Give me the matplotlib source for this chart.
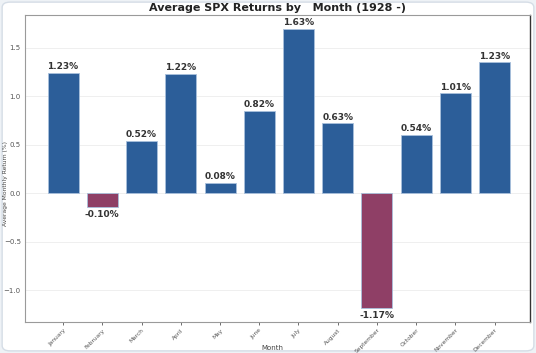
import matplotlib
matplotlib.use("Agg")
import matplotlib.pyplot as plt
from matplotlib.patches import FancyBboxPatch

# average monthly returns (bar heights as drawn) and their printed labels
months = ["January", "February", "March", "April", "May", "June",
          "July", "August", "September", "October", "November", "December"]
returns = [1.24, -0.14, 0.54, 1.23, 0.11, 0.85, 1.70, 0.72, -1.19, 0.60, 1.03, 1.35]
labels = ["1.23%", "-0.10%", "0.52%", "1.22%", "0.08%", "0.82%",
          "1.63%", "0.63%", "-1.17%", "0.54%", "1.01%", "1.23%"]

pos_colour = "#2c5e99"
neg_colour = "#8f3f66"

fig = plt.figure(figsize=(5.36, 3.53), dpi=100)
fig.patch.set_facecolor("#eef2f6")
frame = FancyBboxPatch((0.004, 0.006), 0.992, 0.988, boxstyle="round,pad=0,rounding_size=0.015",
                       transform=fig.transFigure, facecolor="white", edgecolor="#d5dde6",
                       linewidth=1.0, zorder=-1)
fig.patches.append(frame)

ax = fig.add_axes([25 / 536, 31 / 353, 505 / 536, 307 / 353])
ax.set_facecolor("white")

x = range(len(months))
colours = [pos_colour if v >= 0 else neg_colour for v in returns]
ax.bar(x, returns, width=0.79, color=colours, edgecolor="#a9c0dc", linewidth=0.6, zorder=3)

for i, (v, lab) in enumerate(zip(returns, labels)):
    if v >= 0:
        ax.text(i, v + 0.02, lab, ha="center", va="bottom", fontsize=6.5,
                fontweight="bold", color="#333333")
    else:
        ax.text(i, v - 0.03, lab, ha="center", va="top", fontsize=6.5,
                fontweight="bold", color="#333333")

ax.set_xlim(-0.97, 11.9)
ax.set_ylim(-1.33, 1.84)
ax.set_yticks([-1.0, -0.5, 0.0, 0.5, 1.0, 1.5])
ax.set_xticks(list(x))
ax.set_xticklabels(months, rotation=45, ha="right", rotation_mode="anchor")
ax.tick_params(axis="y", labelsize=5, colors="#555555", length=0, pad=3)
ax.tick_params(axis="x", labelsize=4.2, colors="#555555", length=2.5, width=0.6, pad=1.5)
ax.grid(axis="y", color="#ececec", linewidth=0.6, zorder=0)

for side in ["left", "bottom", "top"]:
    ax.spines[side].set_color("#9a9a9a")
    ax.spines[side].set_linewidth(0.8)
ax.spines["right"].set_color("#333333")
ax.spines["right"].set_linewidth(1.0)

ax.set_xlabel("Month", fontsize=5, color="#444444")
ax.xaxis.set_label_coords(0.49, -0.075)
ax.set_ylabel("Average Monthly Return (%)", fontsize=4.3, color="#444444")
ax.yaxis.set_label_coords(-0.033, 0.45)
ax.set_title("Average SPX Returns by   Month (1928 -)", fontsize=8, fontweight="bold",
             color="#222222", pad=3)

fig.savefig("out.png", dpi=100, facecolor=fig.get_facecolor())
